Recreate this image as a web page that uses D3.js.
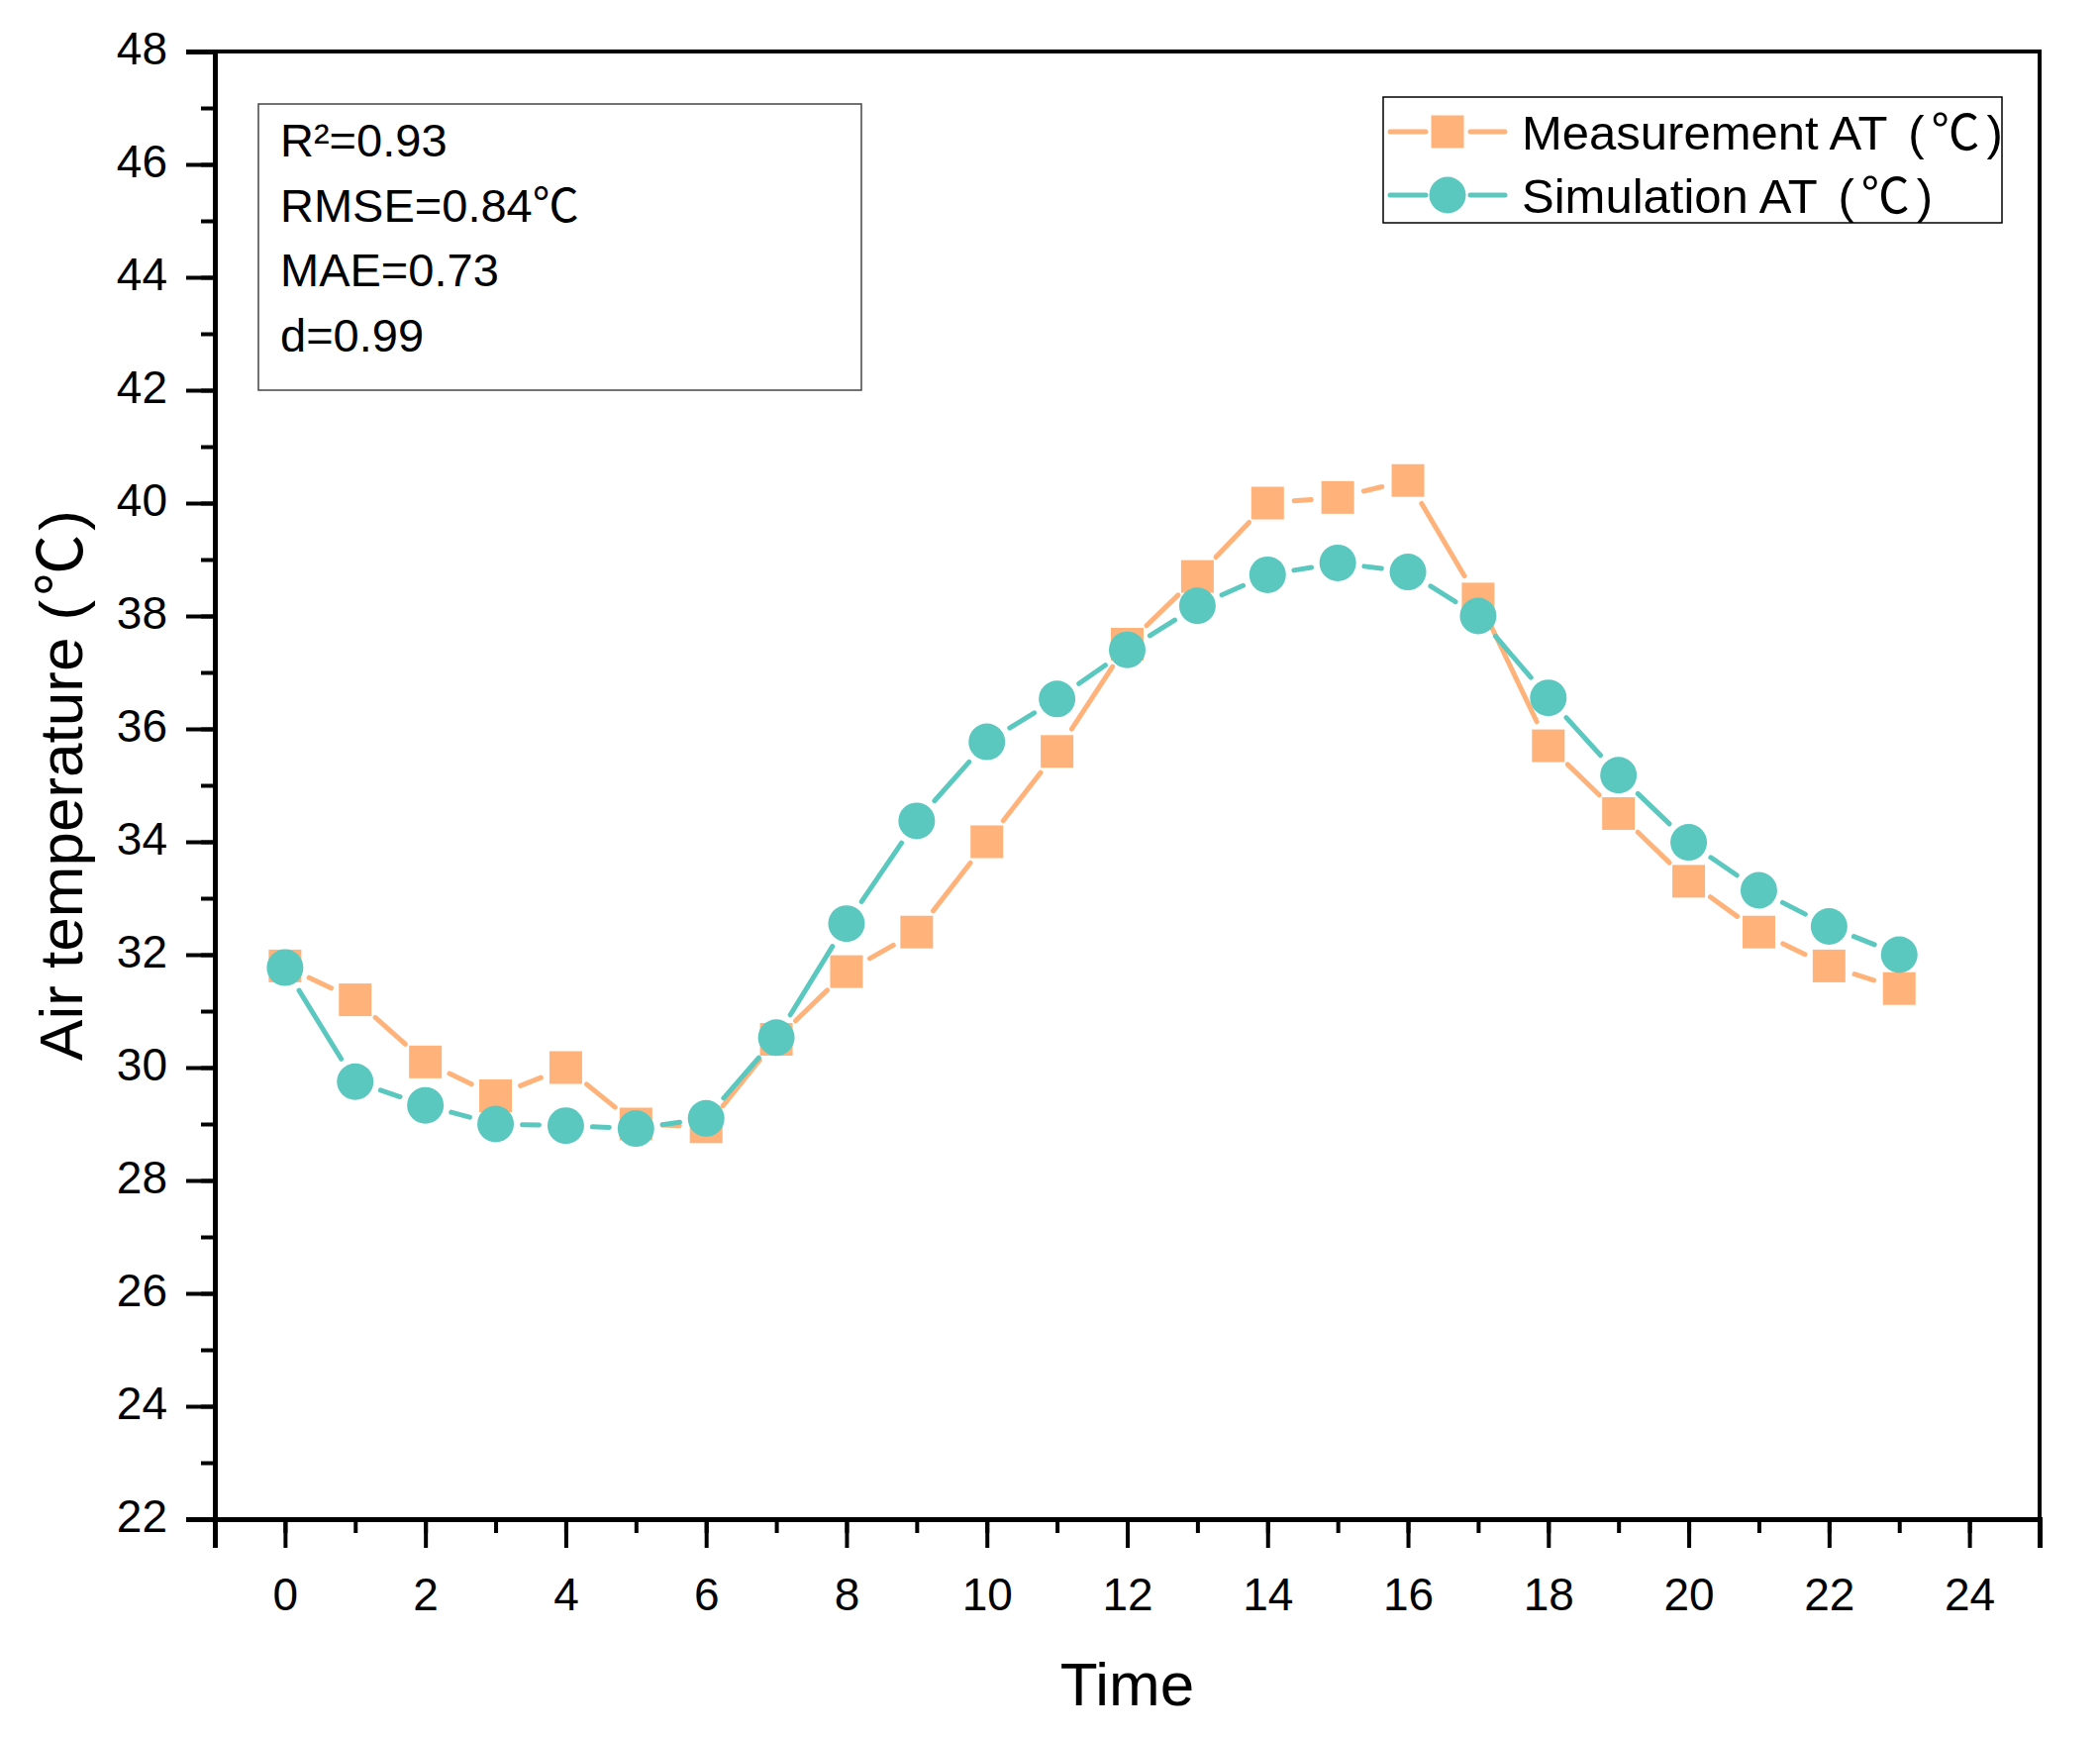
<!DOCTYPE html>
<html>
<head>
<meta charset="utf-8">
<script src="https://cdn.jsdelivr.net/npm/d3@7"></script>
<style>
  body { margin: 0; background: #fff; }
  text { font-family: "Liberation Sans", Arial, "Noto Sans CJK SC", sans-serif; fill: #000; }
  .cjk { font-family: "Noto Sans CJK SC", sans-serif; }
</style>
</head>
<body>
<div id="chart"></div>
<script>
// Hourly air temperature, measured vs simulated
const hours = [0, 1, 2, 3, 4, 5, 6, 7, 8, 9, 10, 11, 12, 13, 14, 15, 16, 17, 18, 19, 20, 21, 22, 23];
const measured = [31.8, 31.2, 30.1, 29.5, 30.0, 29.0, 28.95, 30.5, 31.7, 32.4, 34.0, 35.6, 37.5, 38.7,
  40.0, 40.1, 40.4, 38.3, 35.7, 34.5, 33.3, 32.4, 31.8, 31.4];
const simulated = [31.77, 29.75, 29.33, 29.0, 28.97, 28.92, 29.1, 30.53, 32.55, 34.37, 35.77, 36.53,
  37.4, 38.18, 38.73, 38.94, 38.78, 38.0, 36.55, 35.18, 33.99, 33.14, 32.5, 32.0];
const yTicks = d3.range(22, 49, 2);
const xTicks = d3.range(0, 25, 2);
const stats = [['R²=0.93', ''], ['RMSE=0.84', '℃'], ['MAE=0.73', ''], ['d=0.99', '']];
const seriesNames = ['Measurement AT', 'Simulation AT'];

const orange = '#ffb27a';
const teal = '#5bc8c0';

const width = 2121, height = 1755;
const margin = { left: 217, right: 2060, top: 52, bottom: 1534 };

const svg = d3.select('#chart').append('svg')
  .attr('width', width)
  .attr('height', height);

const x = d3.scaleLinear().domain([-1, 25]).range([margin.left, margin.right]);
const y = d3.scaleLinear().domain([22, 48]).range([margin.bottom, margin.top]);

// frame (top + right)
svg.append('path')
  .attr('d', `M${margin.left},${margin.top}H${margin.right}V${margin.bottom}`)
  .attr('fill', 'none').attr('stroke', '#000').attr('stroke-width', 4);

// minor ticks
const yAxisMinor = d3.axisLeft(y).tickValues(d3.range(22, 49, 1)).tickSize(14).tickFormat('');
const xAxisMinor = d3.axisBottom(x).tickValues(d3.range(-1, 26, 1)).tickSize(14).tickFormat('');
svg.append('g').attr('transform', `translate(${margin.left},0)`).call(yAxisMinor);
svg.append('g').attr('transform', `translate(0,${margin.bottom})`).call(xAxisMinor);

// major ticks with labels
const yAxis = d3.axisLeft(y).tickValues(yTicks).tickSize(29).tickPadding(19);
const xAxis = d3.axisBottom(x).tickValues(xTicks).tickSize(29).tickPadding(30);
const gy = svg.append('g').attr('transform', `translate(${margin.left},0)`).call(yAxis);
const gx = svg.append('g').attr('transform', `translate(0,${margin.bottom})`).call(xAxis);

svg.selectAll('.tick line').attr('stroke', '#000').attr('stroke-width', 4);
svg.selectAll('.domain').attr('stroke', '#000').attr('stroke-width', 5);
[gx, gy].forEach(g => g.selectAll('text')
  .style('font-family', '"Liberation Sans", Arial, sans-serif')
  .attr('font-size', 46).attr('fill', '#000'));
gy.selectAll('text').attr('dy', '0.28em');

// axis titles
svg.append('text')
  .attr('x', (margin.left + margin.right) / 2).attr('y', 1722)
  .attr('text-anchor', 'middle').attr('font-size', 62)
  .text('Time');
const yTitle = svg.append('text')
  .attr('transform', `translate(83,${(margin.top + margin.bottom) / 2}) rotate(-90)`)
  .attr('text-anchor', 'middle').attr('font-size', 62);
yTitle.append('tspan').text('Air temperature (');
yTitle.append('tspan').attr('class', 'cjk').attr('dx', 4).text('℃');
yTitle.append('tspan').attr('dx', 4).text(')');

// line split into segments that stop short of each marker
function drawSeries(values, color, shape) {
  const pts = hours.map((h, i) => [x(h), y(values[i])]);
  const gap = 27;
  const segs = d3.pairs(pts).map(([a, b]) => {
    const dx = b[0] - a[0], dy = b[1] - a[1];
    const len = Math.hypot(dx, dy);
    const ux = dx / len, uy = dy / len;
    return [a[0] + ux * gap, a[1] + uy * gap, b[0] - ux * gap, b[1] - uy * gap, len];
  }).filter(s => s[4] > gap * 2);

  const g = svg.append('g');
  g.selectAll('line').data(segs).join('line')
    .attr('x1', d => d[0]).attr('y1', d => d[1])
    .attr('x2', d => d[2]).attr('y2', d => d[3])
    .attr('stroke', color).attr('stroke-width', 5).attr('stroke-linecap', 'round');

  if (shape === 'square') {
    g.selectAll('rect').data(pts).join('rect')
      .attr('x', d => d[0] - 16.5).attr('y', d => d[1] - 16.5)
      .attr('width', 33).attr('height', 33).attr('fill', color);
  } else {
    g.selectAll('circle').data(pts).join('circle')
      .attr('cx', d => d[0]).attr('cy', d => d[1]).attr('r', 18.5).attr('fill', color);
  }
}

drawSeries(measured, orange, 'square');
drawSeries(simulated, teal, 'circle');

// stats box
svg.append('rect')
  .attr('x', 261).attr('y', 105).attr('width', 609).attr('height', 289)
  .attr('fill', 'none').attr('stroke', '#444').attr('stroke-width', 1.5);
const st = svg.append('g').selectAll('text').data(stats).join('text')
  .attr('x', 283).attr('y', (d, i) => 158 + i * 65.5)
  .attr('font-size', 47);
st.append('tspan').text(d => d[0]);
st.append('tspan').attr('class', 'cjk').text(d => d[1]);

// legend
svg.append('rect')
  .attr('x', 1397).attr('y', 98).attr('width', 625).attr('height', 127)
  .attr('fill', 'none').attr('stroke', '#000').attr('stroke-width', 1.5);
const legendRows = [
  { name: seriesNames[0], color: orange, shape: 'square', cy: 133 },
  { name: seriesNames[1], color: teal, shape: 'circle', cy: 197 }
];
legendRows.forEach(r => {
  const lg = svg.append('g');
  lg.append('line').attr('x1', 1404).attr('x2', 1440).attr('y1', r.cy).attr('y2', r.cy)
    .attr('stroke', r.color).attr('stroke-width', 5).attr('stroke-linecap', 'round');
  lg.append('line').attr('x1', 1485).attr('x2', 1520).attr('y1', r.cy).attr('y2', r.cy)
    .attr('stroke', r.color).attr('stroke-width', 5).attr('stroke-linecap', 'round');
  if (r.shape === 'square') {
    lg.append('rect').attr('x', 1462 - 16.5).attr('y', r.cy - 16.5).attr('width', 33).attr('height', 33)
      .attr('fill', r.color);
  } else {
    lg.append('circle').attr('cx', 1462).attr('cy', r.cy).attr('r', 18.5).attr('fill', r.color);
  }
  const t = lg.append('text').attr('x', 1537).attr('y', r.cy + 18).attr('font-size', 49);
  t.append('tspan').text(r.name + ' ');
  t.append('tspan').attr('dx', 8).text('(');
  t.append('tspan').attr('class', 'cjk').attr('dx', 7).text('℃');
  t.append('tspan').attr('dx', 7).text(')');
});
</script>
</body>
</html>
